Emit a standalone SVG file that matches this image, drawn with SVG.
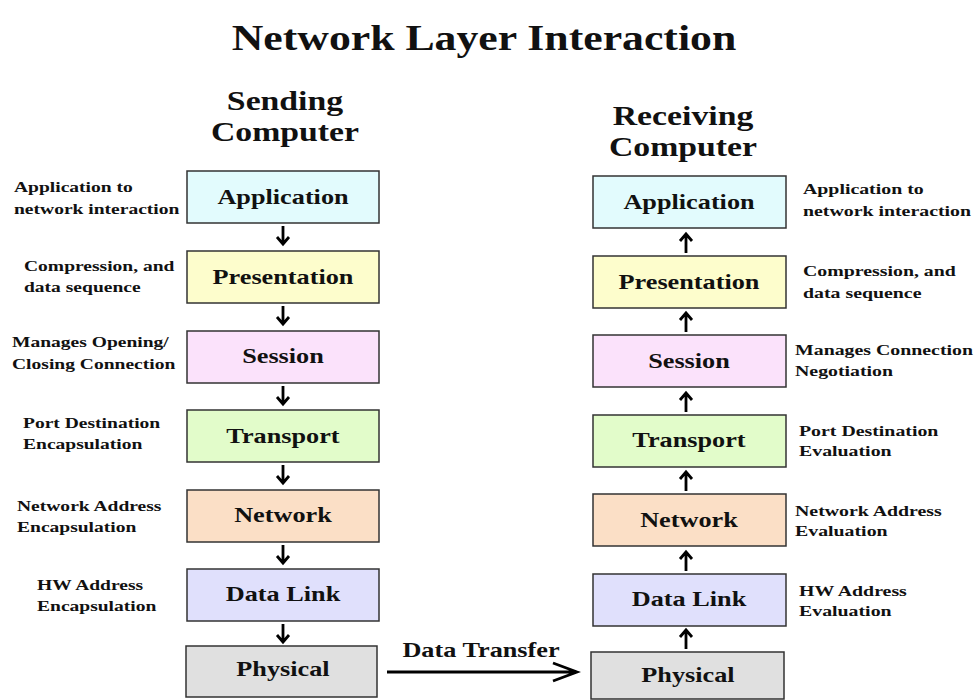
<svg xmlns="http://www.w3.org/2000/svg" width="979" height="700" viewBox="0 0 979 700">
  <style>
    text { font-family: "Liberation Serif", "Times New Roman", serif; font-weight: bold; fill: #111; }
    .title { font-size: 35px; text-anchor: middle; }
    .head { font-size: 27px; text-anchor: middle; }
    .layer { font-size: 21px; text-anchor: middle; }
    .note { font-size: 15.5px; }
    .xfer { font-size: 21px; text-anchor: middle; }
    .box { stroke: #333; stroke-width: 1.5; }
    .arrow { fill: none; stroke: #000; stroke-width: 2.8; stroke-linecap: butt; }
    .app { fill: #e2fbfd; }
    .pres { fill: #fdfdcc; }
    .sess { fill: #fbe2fb; }
    .trans { fill: #e2fcca; }
    .net { fill: #fbdfc6; }
    .link { fill: #e0e0fc; }
    .phys { fill: #e0e0e0; }
  </style>
  <rect width="979" height="700" fill="#fff"/>

  <text class="title" transform="translate(484 50) scale(1.25 1)">Network Layer Interaction</text>

  <!-- column headings -->
  <g id="sending-heading">
    <text class="head" transform="translate(285 110) scale(1.25 1)">Sending</text>
    <text class="head" transform="translate(285 141) scale(1.25 1)">Computer</text>
  </g>
  <g id="receiving-heading">
    <text class="head" transform="translate(683 125) scale(1.25 1)">Receiving</text>
    <text class="head" transform="translate(683 156) scale(1.25 1)">Computer</text>
  </g>

  <!-- sending stack -->
  <g id="s-application"><rect class="box app" x="187" y="171" width="192" height="52"/><text class="layer" transform="translate(283 204) scale(1.25 1)">Application</text></g>
  <g id="s-presentation"><rect class="box pres" x="187" y="251" width="192" height="52"/><text class="layer" transform="translate(283 284) scale(1.25 1)">Presentation</text></g>
  <g id="s-session"><rect class="box sess" x="187" y="331" width="192" height="52"/><text class="layer" transform="translate(283 363) scale(1.25 1)">Session</text></g>
  <g id="s-transport"><rect class="box trans" x="187" y="410" width="192" height="52"/><text class="layer" transform="translate(283 443) scale(1.25 1)">Transport</text></g>
  <g id="s-network"><rect class="box net" x="187" y="490" width="192" height="52"/><text class="layer" transform="translate(283 522) scale(1.25 1)">Network</text></g>
  <g id="s-datalink"><rect class="box link" x="187" y="569" width="192" height="52"/><text class="layer" transform="translate(283 601) scale(1.25 1)">Data Link</text></g>
  <g id="s-physical"><rect class="box phys" x="186" y="646" width="191" height="51"/><text class="layer" transform="translate(283 676) scale(1.25 1)">Physical</text></g>

  <!-- receiving stack -->
  <g id="r-application"><rect class="box app" x="593" y="176" width="193" height="52"/><text class="layer" transform="translate(689 209) scale(1.25 1)">Application</text></g>
  <g id="r-presentation"><rect class="box pres" x="593" y="256" width="193" height="52"/><text class="layer" transform="translate(689 289) scale(1.25 1)">Presentation</text></g>
  <g id="r-session"><rect class="box sess" x="593" y="335" width="193" height="52"/><text class="layer" transform="translate(689 368) scale(1.25 1)">Session</text></g>
  <g id="r-transport"><rect class="box trans" x="593" y="415" width="193" height="52"/><text class="layer" transform="translate(689 447) scale(1.25 1)">Transport</text></g>
  <g id="r-network"><rect class="box net" x="593" y="494" width="193" height="52"/><text class="layer" transform="translate(689 527) scale(1.25 1)">Network</text></g>
  <g id="r-datalink"><rect class="box link" x="593" y="574" width="193" height="52"/><text class="layer" transform="translate(689 606) scale(1.25 1)">Data Link</text></g>
  <g id="r-physical"><rect class="box phys" x="591" y="652" width="193" height="47"/><text class="layer" transform="translate(688 682) scale(1.25 1)">Physical</text></g>

  <!-- sending side notes -->
  <g id="s-notes">
    <text class="note" transform="translate(14 192) scale(1.26 1)">Application to</text>
    <text class="note" transform="translate(14 214) scale(1.26 1)">network interaction</text>
    <text class="note" transform="translate(24 271) scale(1.26 1)">Compression, and</text>
    <text class="note" transform="translate(24 292) scale(1.26 1)">data sequence</text>
    <text class="note" transform="translate(12 347) scale(1.26 1)">Manages Opening/</text>
    <text class="note" transform="translate(12 369) scale(1.26 1)">Closing Connection</text>
    <text class="note" transform="translate(23 428) scale(1.26 1)">Port Destination</text>
    <text class="note" transform="translate(23 449) scale(1.26 1)">Encapsulation</text>
    <text class="note" transform="translate(17 511) scale(1.26 1)">Network Address</text>
    <text class="note" transform="translate(17 532) scale(1.26 1)">Encapsulation</text>
    <text class="note" transform="translate(37 590) scale(1.26 1)">HW Address</text>
    <text class="note" transform="translate(37 611) scale(1.26 1)">Encapsulation</text>
  </g>

  <!-- receiving side notes -->
  <g id="r-notes">
    <text class="note" transform="translate(803 194) scale(1.28 1)">Application to</text>
    <text class="note" transform="translate(803 216) scale(1.28 1)">network interaction</text>
    <text class="note" transform="translate(803 276) scale(1.28 1)">Compression, and</text>
    <text class="note" transform="translate(803 298) scale(1.28 1)">data sequence</text>
    <text class="note" transform="translate(795 355) scale(1.28 1)">Manages Connection</text>
    <text class="note" transform="translate(795 376) scale(1.28 1)">Negotiation</text>
    <text class="note" transform="translate(799 436) scale(1.28 1)">Port Destination</text>
    <text class="note" transform="translate(799 456) scale(1.28 1)">Evaluation</text>
    <text class="note" transform="translate(795 516) scale(1.28 1)">Network Address</text>
    <text class="note" transform="translate(795 536) scale(1.28 1)">Evaluation</text>
    <text class="note" transform="translate(799 596) scale(1.28 1)">HW Address</text>
    <text class="note" transform="translate(799 616) scale(1.28 1)">Evaluation</text>
  </g>

  <!-- connectors -->
  <g id="connectors">
    <!-- down the sending stack -->
    <path class="arrow" d="M283,226 V244 M277,237 L283,244 L289,237"/>
    <path class="arrow" d="M283,306 V324 M277,317 L283,324 L289,317"/>
    <path class="arrow" d="M283,386 V404 M277,397 L283,404 L289,397"/>
    <path class="arrow" d="M283,465 V483 M277,476 L283,483 L289,476"/>
    <path class="arrow" d="M283,545 V563 M277,556 L283,563 L289,556"/>
    <path class="arrow" d="M283,624 V642 M277,635 L283,642 L289,635"/>
    <!-- up the receiving stack -->
    <path class="arrow" d="M686,253 V234 M680,241 L686,234 L692,241"/>
    <path class="arrow" d="M686,332 V313 M680,320 L686,313 L692,320"/>
    <path class="arrow" d="M686,412 V393 M680,400 L686,393 L692,400"/>
    <path class="arrow" d="M686,491 V472 M680,479 L686,472 L692,479"/>
    <path class="arrow" d="M686,571 V552 M680,559 L686,552 L692,559"/>
    <path class="arrow" d="M686,649 V630 M680,637 L686,630 L692,637"/>
    <!-- physical link -->
    <path class="arrow" d="M387,672 H577 M553,663 L577,672 L553,681" stroke-width="3"/>
    <text class="xfer" transform="translate(481 657) scale(1.25 1)">Data Transfer</text>
  </g>
</svg>
